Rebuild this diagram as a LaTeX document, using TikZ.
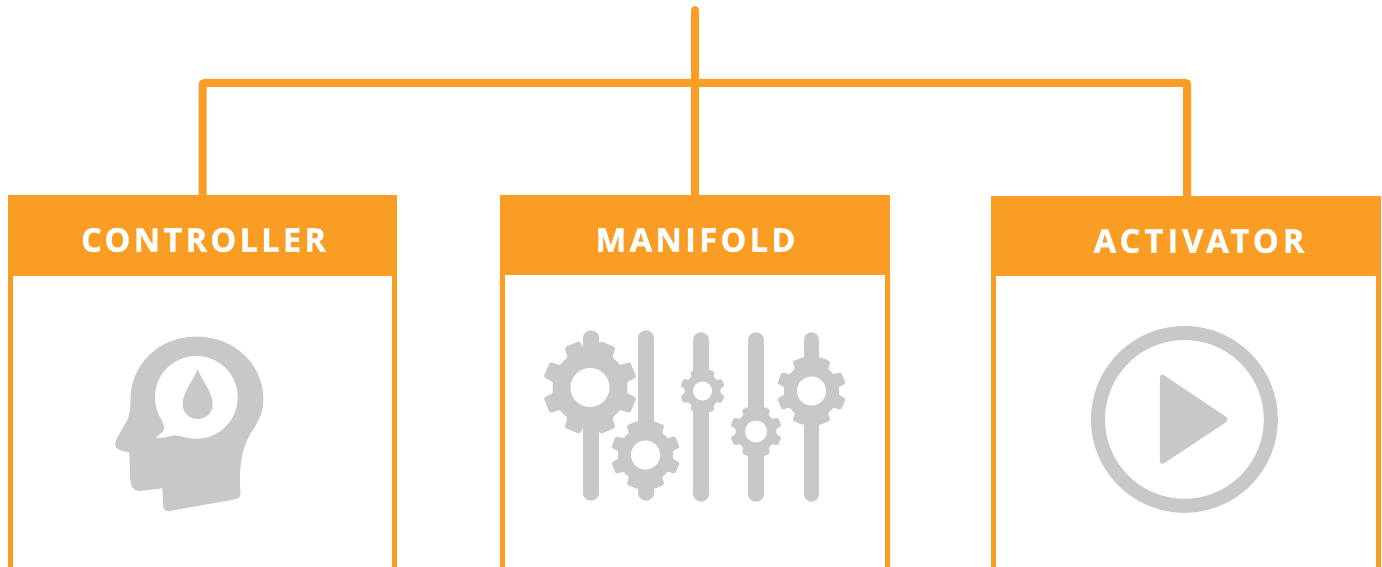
\documentclass[tikz,border=0pt]{standalone}
\usepackage{fontspec}
\setmainfont{Open Sans}
\newfontface\headfont{Open Sans Bold}[LetterSpace=10,FakeBold=1.1]
\newfontface\headfontwide{Open Sans Bold}[LetterSpace=12.5,FakeBold=1.1]
\definecolor{orangeC}{HTML}{F99D25}
\definecolor{greyC}{HTML}{C7C8CA}
\tikzset{
  x=1pt,y=-1pt,
  panel/.style={draw=orangeC,line width=5.5pt},
  header/.style={fill=orangeC,draw=none,inner sep=0pt,minimum height=81pt,minimum width=390pt},
  title/.style={text=white,inner sep=0pt,font=\headfont\fontsize{32.6}{32.6}\selectfont},
  titlewide/.style={text=white,inner sep=0pt,font=\headfontwide\fontsize{32.6}{32.6}\selectfont},
  wire/.style={draw=orangeC,line width=8pt,line cap=round,rounded corners=2pt},
  slider/.style={draw=greyC,line width=15.4pt,line cap=round},
  gearbody/.style={fill=greyC,draw=greyC,line width=1pt,line join=round,rounded corners=1.2pt}
}
\usetikzlibrary{calc}
% centre x, centre y, outer r, root r, hole r
\newcommand{\gearicon}[5]{%
  \path[gearbody] (#1,#2) ++(0:#4) \foreach \a in {22.5,67.5,...,337.5}{
    -- ($(#1,#2)+({cos(\a-13.5)*#4},{sin(\a-13.5)*#4})$)
    -- ($(#1,#2)+({cos(\a-9.5)*#3},{sin(\a-9.5)*#3})$)
    -- ($(#1,#2)+({cos(\a+9.5)*#3},{sin(\a+9.5)*#3})$)
    -- ($(#1,#2)+({cos(\a+13.5)*#4},{sin(\a+13.5)*#4})$)
    -- ($(#1,#2)+({cos(\a+22.5)*#4},{sin(\a+22.5)*#4})$)
  } -- cycle;
  \fill[white] (#1,#2) circle[radius=#5];
}
\begin{document}
\begin{tikzpicture}
\useasboundingbox (0,0) rectangle (1382,567);
% panels
\draw[panel] (10.5,200) -- (10.5,575) (394.5,200) -- (394.5,575);
\draw[panel] (502.5,200) -- (502.5,575) (887.5,200) -- (887.5,575);
\draw[panel] (993.5,200) -- (993.5,575) (1378.5,200) -- (1378.5,575);
\node[header,minimum width=389pt] (ctrl) at (202.5,235.5) {};
\node[header,minimum width=390pt,minimum height=80pt] (mani) at (695,235) {};
\node[header,minimum width=390pt,minimum height=80pt] (acti) at (1186,236) {};
\node[title] (ctrltext) at (203.5,240) {CONTROLLER};
\node[title] (manitext) at (695.5,240) {MANIFOLD};
\node[titlewide] (actitext) at (1199,241) {ACTIVATOR};
% connectors
\coordinate (top) at (695,10);
\coordinate (bus) at (695,83);
\coordinate (actiin) at ($(acti.north)+(1.2,0)$);
\draw[wire] (top) -- (mani.north);
\draw[wire,line cap=butt] (ctrl.north) |- (bus) -| (actiin);
% head icon
\begin{scope}[shift={(100,320)},x=0.3333pt,y=-0.3333pt]
\fill[greyC] (290,50) .. controls (180,50) and (105,125) .. (93,215)
  .. controls (90,260) and (92,280) .. (82,300)
  .. controls (70,325) and (50,350) .. (45,372)
  .. controls (45,385) and (55,392) .. (88,397)
  -- (90,470) .. controls (92,500) and (100,513) .. (118,513)
  -- (187,505) -- (190,560) .. controls (192,570) and (198,574) .. (208,573)
  -- (405,538) .. controls (418,535) and (422,530) .. (421,515)
  .. controls (416,440) and (425,375) .. (462,325)
  .. controls (480,295) and (490,270) .. (490,240)
  .. controls (490,130) and (400,50) .. (290,50) -- cycle;
\fill[white] (289,232) circle[radius=124];
\fill[white] (187,305) .. controls (192,320) and (197,325) .. (190,333)
  .. controls (182,342) and (175,347) .. (167,352)
  .. controls (185,358) and (205,348) .. (222,346)
  .. controls (240,346) and (262,355) .. (290,355) -- (300,250) -- cycle;
\fill[greyC] (293,147) .. controls (285,175) and (248,215) .. (248,252)
  .. controls (248,278) and (268,297) .. (293,297)
  .. controls (318,297) and (338,278) .. (338,252)
  .. controls (338,215) and (300,175) .. (293,147) -- cycle;
\end{scope}
% sliders
\draw[slider] (591,338) -- (591,493);
\draw[slider] (646,338) -- (646,493);
\draw[slider] (701,340) -- (701,494);
\draw[slider] (756,340) -- (756,494);
\draw[slider] (811.5,340) -- (811.5,494);
\gearicon{590}{387.5}{47}{37}{19.5}
\gearicon{645.5}{455}{34.5}{27}{14.5}
\gearicon{702.5}{391}{22}{17.5}{9.5}
\gearicon{756}{431.5}{25.5}{20}{11}
\gearicon{811.5}{391}{34.5}{27}{14.5}
% play icon
\draw[greyC,line width=14pt] (1184.4,419.4) circle[radius=86.4];
\fill[greyC,rounded corners=5pt] (1159.8,372.5) -- (1230,419.5) -- (1159.8,466) -- cycle;
\end{tikzpicture}
\end{document}
